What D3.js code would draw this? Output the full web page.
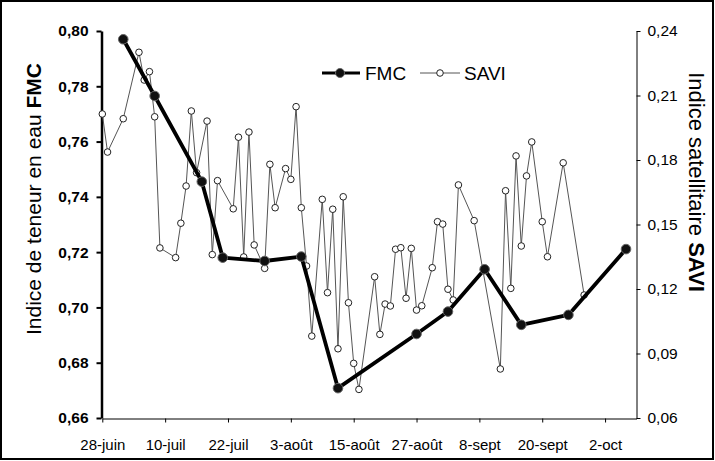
<!DOCTYPE html>
<html><head><meta charset="utf-8">
<script src="https://cdn.jsdelivr.net/npm/d3@7"></script>
<style>body{margin:0;background:#fff} svg{display:block}</style>
</head><body><svg id="c" width="715" height="461"></svg>
<script>
// Data: day offsets from 28-juin
const xTickLabels = ["28-juin","10-juil","22-juil","3-août","15-août","27-août","8-sept","20-sept","2-oct"];
const xTickDays = [0,12,24,36,48,60,72,84,96];
const fmcDays = [4,10,19,23,31,38,45,60,66,73,80,89,100];
const fmcValues = [0.797,0.7765,0.7455,0.718,0.7168,0.7184,0.6708,0.6904,0.6985,0.7138,0.6937,0.6973,0.7211];
const saviDays = [0,1,4,7,8,9,10,11,14,15,16,17,18,20,21,22,25,26,27,28,29,31,32,33,35,36,37,38,39,40,42,43,44,45,46,47,48,49,52,53,54,55,56,57,58,59,60,61,63,64,65,66,67,68,71,76,77,78,79,80,81,82,84,85,88,92];
const saviValues = [0.2014,0.1837,0.1992,0.2301,0.2172,0.2211,0.2001,0.1391,0.1346,0.1506,0.1679,0.2028,0.1741,0.1981,0.1360,0.1704,0.1573,0.1906,0.1349,0.1930,0.1405,0.1296,0.1780,0.1578,0.1760,0.1710,0.2048,0.1578,0.1307,0.0981,0.1617,0.1183,0.1571,0.0922,0.1629,0.1136,0.0854,0.0733,0.1257,0.0989,0.1130,0.1121,0.1385,0.1392,0.1157,0.1389,0.1102,0.1122,0.1299,0.1513,0.1502,0.1199,0.1149,0.1684,0.1518,0.0828,0.1657,0.1203,0.1819,0.1400,0.1726,0.1884,0.1513,0.1350,0.1787,0.1172];
const fmcTicks = [0.66,0.68,0.70,0.72,0.74,0.76,0.78,0.80];
const saviTicks = [0.06,0.09,0.12,0.15,0.18,0.21,0.24];

const svg = d3.select("#c");
const FONT = "'Liberation Sans', Arial, sans-serif";
svg.append("rect").attr("x",1).attr("y",1).attr("width",712).attr("height",458)
  .attr("fill","#fff").attr("stroke","#000").attr("stroke-width",2);

const x = d3.scaleLinear().domain([0,102]).range([102.3,636.5]);
const yL = d3.scaleLinear().domain([0.66,0.80]).range([418,31]);
const yR = d3.scaleLinear().domain([0.06,0.24]).range([418,31]);
const fmt = d => d3.format(".2f")(d).replace(".",",");

// bottom axis
const gx = svg.append("g").attr("transform","translate(0,418.5)")
  .call(d3.axisBottom(x).tickValues(xTickDays).tickFormat((d,i)=>xTickLabels[i]).tickSize(4).tickSizeOuter(0).tickPadding(17));
gx.select(".domain").attr("stroke","#000").attr("stroke-width",1);
gx.selectAll("text").attr("font-family",FONT).attr("font-size",15).attr("fill","#000");

// right axis
const gr = svg.append("g").attr("transform","translate(636.5,0)")
  .call(d3.axisRight(yR).tickValues(saviTicks).tickFormat(fmt).tickSize(4).tickSizeOuter(0).tickPadding(7));
gr.select(".domain").attr("stroke-width",1);
gr.selectAll("text").attr("font-family",FONT).attr("font-size",15.5).attr("fill","#000");

// left axis
const gl = svg.append("g").attr("transform","translate(101.5,0)")
  .call(d3.axisLeft(yL).tickValues(fmcTicks).tickFormat(fmt).tickSize(5).tickSizeOuter(0).tickPadding(8));
gl.select(".domain").attr("stroke-width",2.5);
gl.selectAll(".tick line").attr("stroke-width",2);
gl.selectAll("text").attr("font-family",FONT).attr("font-size",15.5).attr("font-weight","bold").attr("fill","#000");

// titles
const tl = svg.append("text").attr("transform","translate(33,199) rotate(-90)")
  .attr("text-anchor","middle").attr("dominant-baseline","central")
  .attr("font-family",FONT).attr("font-size",21);
tl.append("tspan").text("Indice de teneur en eau ");
tl.append("tspan").attr("font-weight","bold").text("FMC");
const tr = svg.append("text").attr("transform","translate(697,182) rotate(90)")
  .attr("text-anchor","middle").attr("dominant-baseline","central")
  .attr("font-family",FONT).attr("font-size",22);
tr.append("tspan").text("Indice satellitaire ");
tr.append("tspan").attr("font-weight","bold").text("SAVI");

// SAVI series
const savi = saviDays.map((d,i)=>[d,saviValues[i]]);
svg.append("path").datum(savi)
  .attr("d", d3.line().x(d=>x(d[0])).y(d=>yR(d[1])))
  .attr("fill","none").attr("stroke","#555").attr("stroke-width",1);
svg.append("g").selectAll("circle").data(savi).join("circle")
  .attr("cx",d=>x(d[0])).attr("cy",d=>yR(d[1])).attr("r",3.3)
  .attr("fill","#fff").attr("stroke","#222").attr("stroke-width",1);

// FMC series
const fmc = fmcDays.map((d,i)=>[d,fmcValues[i]]);
svg.append("path").datum(fmc)
  .attr("d", d3.line().x(d=>x(d[0])).y(d=>yL(d[1])))
  .attr("fill","none").attr("stroke","#000").attr("stroke-width",3.8).attr("stroke-linejoin","round");
svg.append("g").selectAll("circle").data(fmc).join("circle")
  .attr("cx",d=>x(d[0])).attr("cy",d=>yL(d[1])).attr("r",4.8)
  .attr("fill","#111").attr("stroke","#666").attr("stroke-width",1);

// legend
const lg = svg.append("g");
lg.append("line").attr("x1",322).attr("x2",360).attr("y1",73).attr("y2",73).attr("stroke","#000").attr("stroke-width",3);
lg.append("circle").attr("cx",340).attr("cy",73).attr("r",4.5).attr("fill","#111").attr("stroke","#666");
lg.append("text").attr("x",365).attr("y",80).attr("font-family",FONT).attr("font-size",19).text("FMC");
lg.append("line").attr("x1",420).attr("x2",460).attr("y1",73).attr("y2",73).attr("stroke","#555").attr("stroke-width",1);
lg.append("circle").attr("cx",440).attr("cy",73).attr("r",3.3).attr("fill","#fff").attr("stroke","#222");
lg.append("text").attr("x",464).attr("y",80).attr("font-family",FONT).attr("font-size",19).text("SAVI");
</script></body></html>
